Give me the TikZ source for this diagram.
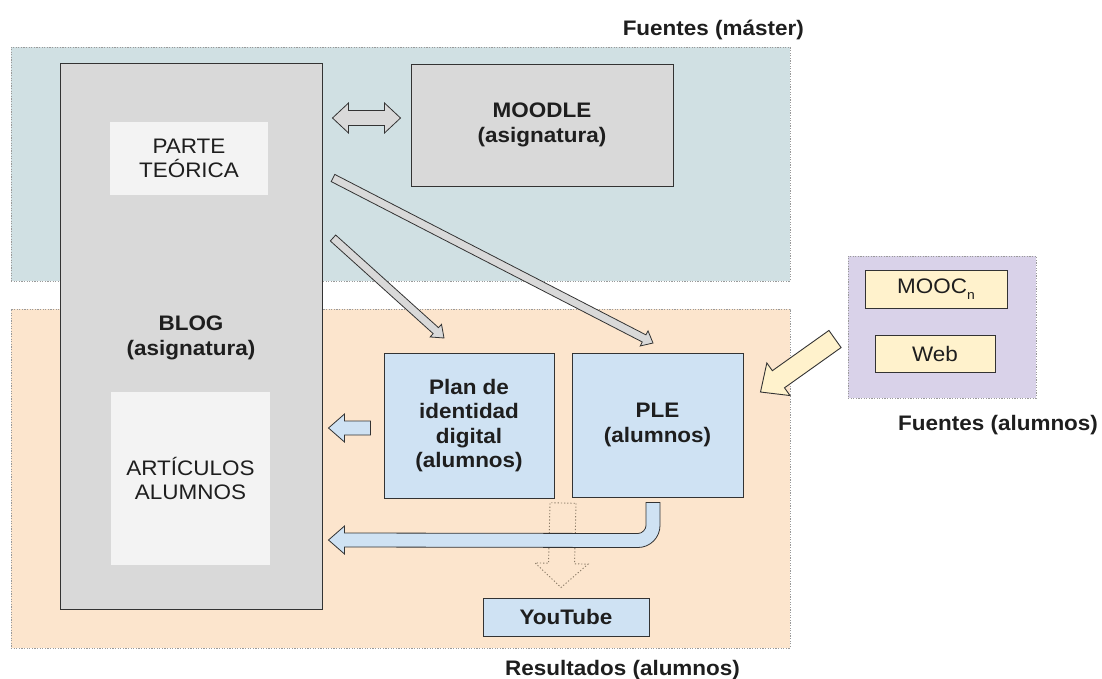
\documentclass[tikz,border=0pt]{standalone}
\usepackage{fontspec}
\setmainfont{Liberation Sans}[FakeStretch=1.07]
\usetikzlibrary{calc}
\definecolor{regblue}{HTML}{D0E0E3}
\definecolor{regorange}{HTML}{FCE5CD}
\definecolor{regpurple}{HTML}{D9D2E9}
\definecolor{boxgray}{HTML}{D9D9D9}
\definecolor{boxlight}{HTML}{F3F3F3}
\definecolor{boxblue}{HTML}{CFE2F3}
\definecolor{boxyellow}{HTML}{FFF2CC}
\definecolor{edge}{HTML}{333333}
\definecolor{dotgray}{HTML}{9A9A9A}
\definecolor{dotbrown}{HTML}{8A7A66}
\definecolor{txt}{HTML}{1E1E1E}
\newcommand\bigtxt{\fontsize{21}{24.5}\selectfont}
% single block arrow: style, from, to, shaft half, head half, head length
\newcommand\blockarrow[6]{%
  \coordinate (tmpH) at ($(#3)!#6!(#2)$);
  \draw[#1] ($(#2)!#4!90:(#3)$) -- ($(tmpH)!#4!90:(#3)$) -- ($(tmpH)!#5!90:(#3)$)
    -- (#3) -- ($(tmpH)!#5!-90:(#3)$) -- ($(tmpH)!#4!-90:(#3)$) -- ($(#2)!#4!-90:(#3)$) -- cycle;}
% double block arrow
\newcommand\dblarrow[6]{%
  \coordinate (tmpHA) at ($(#2)!#6!(#3)$);
  \coordinate (tmpHB) at ($(#3)!#6!(#2)$);
  \draw[#1] (#2) -- ($(tmpHA)!#5!90:(#3)$) -- ($(tmpHA)!#4!90:(#3)$)
    -- ($(tmpHB)!#4!-90:(#2)$) -- ($(tmpHB)!#5!-90:(#2)$) -- (#3)
    -- ($(tmpHB)!#5!90:(#2)$) -- ($(tmpHB)!#4!90:(#2)$)
    -- ($(tmpHA)!#4!-90:(#3)$) -- ($(tmpHA)!#5!-90:(#3)$) -- cycle;}
\tikzset{
  region/.style={draw=dotgray, line width=0.8pt, dash pattern=on 1.2pt off 1.4pt, inner sep=0pt},
  box/.style={draw=edge, line width=1pt, inner sep=0pt},
  plainbox/.style={draw=none, inner sep=0pt},
  btxt/.style={font=\bigtxt\bfseries, text=txt, align=center, inner sep=0pt},
  rtxt/.style={font=\bigtxt, text=txt, align=center, inner sep=0pt},
  grayarrow/.style={fill=boxgray, draw=edge, line width=0.8pt, line join=miter},
  bluearrow/.style={fill=boxblue, draw=edge, line width=0.8pt, line join=miter},
  yellowarrow/.style={fill=boxyellow, draw=edge, line width=0.9pt, line join=miter},
  dotarrow/.style={draw=dotbrown, line width=0.9pt, dash pattern=on 1.2pt off 2pt}
}
\begin{document}
\begin{tikzpicture}[x=1pt, y=-1pt]
\useasboundingbox[fill=white] (0,0) rectangle (1102,678);
% regions
\node[region, fill=regblue, minimum width=779pt, minimum height=234pt] (rmaster) at (400.5,164) {};
\node[region, fill=regorange, minimum width=779pt, minimum height=339pt] (rres) at (400.5,478.5) {};
\node[region, fill=regpurple, minimum width=188pt, minimum height=142pt] (ralum) at (942,327) {};
% region titles
\node[font=\bigtxt\bfseries, text=txt, inner sep=0pt, anchor=base east] (tmaster) at (804,35) {Fuentes (máster)};
\node[font=\bigtxt\bfseries, text=txt, inner sep=0pt, anchor=base west] (talum) at (898,430) {Fuentes (alumnos)};
\node[font=\bigtxt\bfseries, text=txt, inner sep=0pt, anchor=base west] (tres) at (505,675) {Resultados (alumnos)};
% BLOG
\node[box, fill=boxgray, minimum width=262pt, minimum height=546pt] (blog) at (191,336) {};
\node[plainbox, fill=boxlight, minimum width=158pt, minimum height=73pt] (parte) at (189,158.5) {};
\node[rtxt] at (parte) {PARTE\\TEÓRICA};
\node[plainbox, fill=boxlight, minimum width=159pt, minimum height=173pt] (art) at (190.5,478.5) {};
\node[rtxt] at (art) {ARTÍCULOS\\ALUMNOS};
\node[btxt] (blogtxt) at (191,338) {BLOG\\(asignatura)};
% MOODLE
\node[box, fill=boxgray, minimum width=262pt, minimum height=122pt, btxt] (moodle) at (542,125) {MOODLE\\(asignatura)};
% results boxes
\node[box, fill=boxblue, minimum width=170pt, minimum height=145pt, btxt] (plan) at (469,425.5) {Plan de\\identidad\\digital\\(alumnos)};
\node[box, fill=boxblue, minimum width=171pt, minimum height=144pt, btxt] (ple) at (657.5,425) {PLE\\(alumnos)};
\node[box, fill=boxblue, minimum width=166pt, minimum height=38pt, btxt] (yt) at (566,617) {YouTube};
% student sources
\node[box, fill=boxyellow, minimum width=142pt, minimum height=38pt, rtxt] (mooc) at (936,289) {MOOC\raisebox{-0.55ex}{\fontsize{13}{13}\selectfont n}};
\node[box, fill=boxyellow, minimum width=120pt, minimum height=37pt, rtxt] (web) at (935,353.5) {Web};
% arrow end points
\coordinate (d1) at ($(blog.east)+(10,-218)$);
\coordinate (d2) at ($(moodle.west)+(-10,-7)$);
\coordinate (l1) at (333,178);
\coordinate (l2) at (653,343);
\coordinate (s1) at (333,238);
\coordinate (s2) at (444,338);
\coordinate (b1) at ($(plan.west)+(-13,2.5)$);
\coordinate (b2) at ($(blog.east)+(6,92)$);
\coordinate (y1) at (835,339);
\coordinate (y2) at ($(ple.east)+(17,-33)$);
\coordinate (p1) at ($(plan.south east)!0.5!(ple.south west)+(0,5)$);
\coordinate (p2) at ($(yt.north)+(-5,-10)$);
% arrows
\dblarrow{grayarrow}{d1}{d2}{7.5pt}{15pt}{16pt}
\blockarrow{grayarrow}{l1}{l2}{4pt}{8.5pt}{10pt}
\blockarrow{grayarrow}{s1}{s2}{4pt}{8.5pt}{11pt}
\blockarrow{bluearrow}{b1}{b2}{7pt}{14pt}{16pt}
\blockarrow{yellowarrow}{y1}{y2}{10.5pt}{20pt}{22pt}
\blockarrow{dotarrow}{p1}{p2}{13pt}{26.5pt}{24pt}
% curved arrow from PLE back to BLOG
\coordinate (c0) at ($(ple.south)+(-4.5,5)$);
\draw[bluearrow] ($(c0)+(-7,0)$) -- ($(c0)+(7,0)$) -- ($(c0)+(7,23)$)
  .. controls ($(c0)+(7,35.1)$) and ($(c0)+(-2.9,45)$) .. ($(c0)+(-15,45)$)
  -- ($(blog.east)+(22,211)$) -- ($(blog.east)+(22,218)$) -- ($(blog.east)+(6,204)$)
  -- ($(blog.east)+(22,190)$) -- ($(blog.east)+(22,197)$) -- ($(c0)+(-15,31)$)
  .. controls ($(c0)+(-10.6,31)$) and ($(c0)+(-7,26.6)$) .. ($(c0)+(-7,23)$) -- cycle;
\end{tikzpicture}
\end{document}
